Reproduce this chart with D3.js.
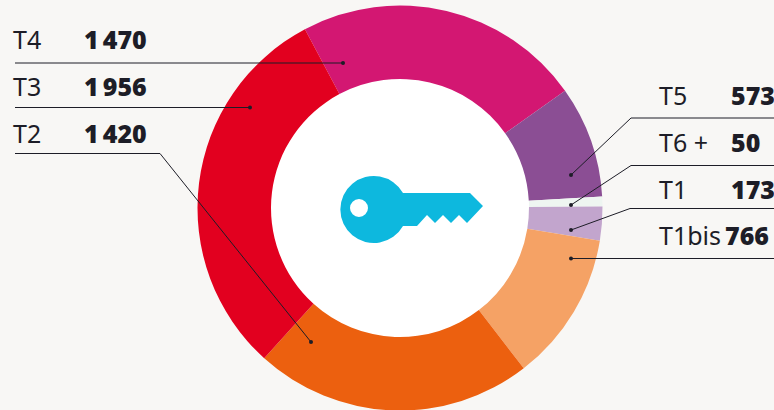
<!DOCTYPE html>
<meta charset="utf-8">
<script src="https://d3js.org/d3.v7.min.js"></script>
<style>
  html, body { margin: 0; background: #f8f7f5; overflow: hidden; }
  text { font-family: "Noto Sans", sans-serif; fill: #1d1d27; font-size: 25px; }
  .val { font-weight: 900; }
</style>
<svg id="chart" width="774" height="410"></svg>
<script>
// data, in drawing order clockwise from the T4 slice
const names = ["T4", "T5", "T6 +", "T1", "T1bis", "T2", "T3"];
const values = [1470, 573, 50, 173, 766, 1420, 1956];
const valueLabels = ["1\u2009470", "573", "50", "173", "766", "1\u2009420", "1\u2009956"];
const colors = ["#d31772", "#8b4e94", "#eef5f1", "#c2a5cd", "#f5a265", "#ec600f", "#e2001f"];

const width = 774, height = 410;
const cx = 400, cy = 208, outer = 202.5, inner = 129;

const svg = d3.select("#chart");

const pie = d3.pie().sort(null)
  .startAngle(-28 * Math.PI / 180)
  .endAngle(332 * Math.PI / 180);
const arc = d3.arc().innerRadius(inner).outerRadius(outer);

const ring = svg.append("g").attr("transform", `translate(${cx},${cy})`);
ring.append("circle").attr("r", inner + 1).attr("fill", "#fff");
ring.selectAll("path")
  .data(pie(values))
  .join("path")
    .attr("d", arc)
    .attr("fill", (d, i) => colors[i]);

// key in the middle
svg.append("path")
  .attr("fill", "#0db8de")
  .attr("fill-rule", "evenodd")
  .attr("d", "M403,193 L470,193 L483,206 L467,223 L459,215 L451,223 L443,215 L435,223 L427,215 L417,226 L403,226 A33.5,33.5 0 1 1 403,193 Z M368,208 A9,9 0 1 0 350,208 A9,9 0 1 0 368,208 Z");

// label rows: text position and leader line
const rows = [
  {i: 0, x: 13, vx: 84, y: 49, line: [[15, 63], [343, 63]]},
  {i: 6, x: 13, vx: 84, y: 96, line: [[15, 107.5], [250, 107.5]]},
  {i: 5, x: 13, vx: 84, y: 143, line: [[15, 153.5], [160, 153.5], [311, 342]]},
  {i: 1, x: 659, vx: 731, y: 105, line: [[774, 118], [631, 118], [571, 175]]},
  {i: 2, x: 659, vx: 731, y: 152, line: [[774, 165.5], [631, 165.5], [571, 205]]},
  {i: 3, x: 659, vx: 731, y: 199, line: [[774, 208.5], [630, 208.5], [571, 230]]},
  {i: 4, x: 659, vx: 725, y: 245, line: [[774, 258.5], [571, 258.5]]}
];

const line = d3.line();
const leaders = svg.append("g");
rows.forEach(r => {
  leaders.append("path")
    .attr("d", line(r.line))
    .attr("fill", "none")
    .attr("stroke", "#1d1d27")
    .attr("stroke-width", 1);
  const end = r.line[r.line.length - 1];
  leaders.append("circle")
    .attr("cx", end[0]).attr("cy", end[1]).attr("r", 2)
    .attr("fill", "#1d1d27");
  svg.append("text").attr("x", r.x).attr("y", r.y).text(names[r.i]);
  svg.append("text").attr("class", "val").attr("x", r.vx).attr("y", r.y).text(valueLabels[r.i]);
});
</script>
